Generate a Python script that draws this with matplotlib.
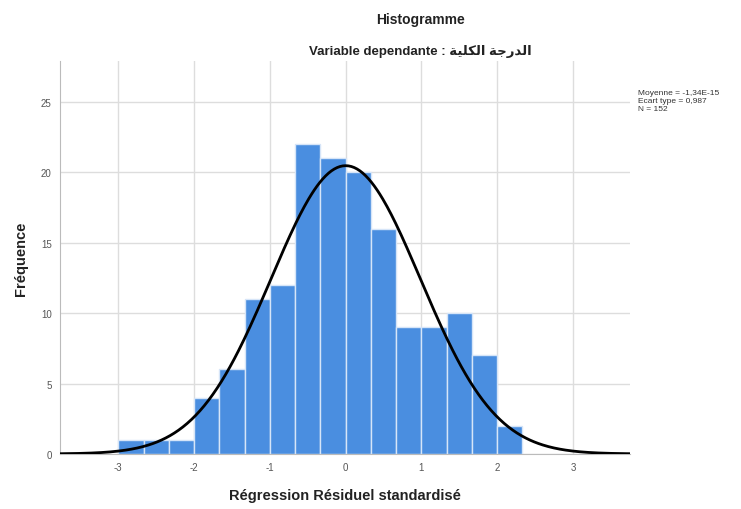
import numpy as np
import matplotlib
matplotlib.use("Agg")
import matplotlib.pyplot as plt

plt.rcParams["font.family"] = ["Liberation Sans", "DejaVu Sans"]
plt.rcParams["axes.unicode_minus"] = False

# histogram of standardised residuals
bin_edges = [-3.0, -2.667, -2.333, -2.0, -1.667, -1.333, -1.0, -0.667, -0.333,
             0.0, 0.333, 0.667, 1.0, 1.333, 1.667, 2.0, 2.333]
counts = [1, 1, 1, 4, 6, 11, 12, 22, 21, 20, 16, 9, 9, 10, 7, 2]
moyenne = -1.34e-15
ecart_type = 0.987
n_obs = 152

xticks = [-3, -2, -1, 0, 1, 2, 3]
yticks = [0, 5, 10, 15, 20, 25]

# arabic text in visual order (presentation forms): "الدرجة الكلية"
arabe = "\uFE94\uFEF4\uFEE0\uFEDC\uFEDF\uFE8D \uFE94\uFE9F\uFEAD\uFEAA\uFEDF\uFE8D"

fig = plt.figure(figsize=(7.41, 5.10), dpi=100)
ax = fig.add_axes([0.081, 0.108, 0.769, 0.770])

edges = np.array(bin_edges)
ax.bar(edges[:-1], counts, width=np.diff(edges), align="edge",
       color="#4a8ee0", edgecolor="#d6e5f8", linewidth=1.0, zorder=2)

xs = np.linspace(-3.77, 3.75, 400)
bw = np.mean(np.diff(edges))
pdf = n_obs * bw / (ecart_type * np.sqrt(2 * np.pi)) * np.exp(-0.5 * ((xs - moyenne) / ecart_type) ** 2)
ax.plot(xs, pdf, color="black", lw=2.0, zorder=3)

ax.set_xlim(-3.77, 3.75)
ax.set_ylim(0, 27.9)
ax.set_xticks(xticks)
ax.set_yticks(yticks)
ax.tick_params(length=0, labelsize=7, labelcolor="#555555", pad=6)
ax.grid(True, color="#dddddd", lw=1.0, zorder=0)
ax.set_axisbelow(True)
for s in ["top", "right"]:
    ax.spines[s].set_visible(False)
ax.spines["left"].set_color("#bbbbbb")
ax.spines["bottom"].set_color("#bbbbbb")

ax.set_xlabel("Régression Résiduel standardisé", fontsize=10.5, fontweight="bold",
              color="#222222", labelpad=11)
ax.set_ylabel("Fréquence", fontsize=10.5, fontweight="bold", color="#222222", labelpad=9)

fig.text(0.567, 0.961, "Histogramme", ha="center", va="center", fontsize=10,
         fontweight="bold", color="#222222")
fig.text(0.567, 0.90, "Variable dependante : " + arabe, ha="center", va="center",
         fontsize=9.5, fontweight="bold", color="#222222")

stats = "Moyenne = -1,34E-15\nEcart type = 0,987\nN = 152"
fig.text(0.861, 0.80, stats, ha="left", va="center", fontsize=6, color="#333333",
         linespacing=1.2)

fig.savefig("out.png", dpi=100)
